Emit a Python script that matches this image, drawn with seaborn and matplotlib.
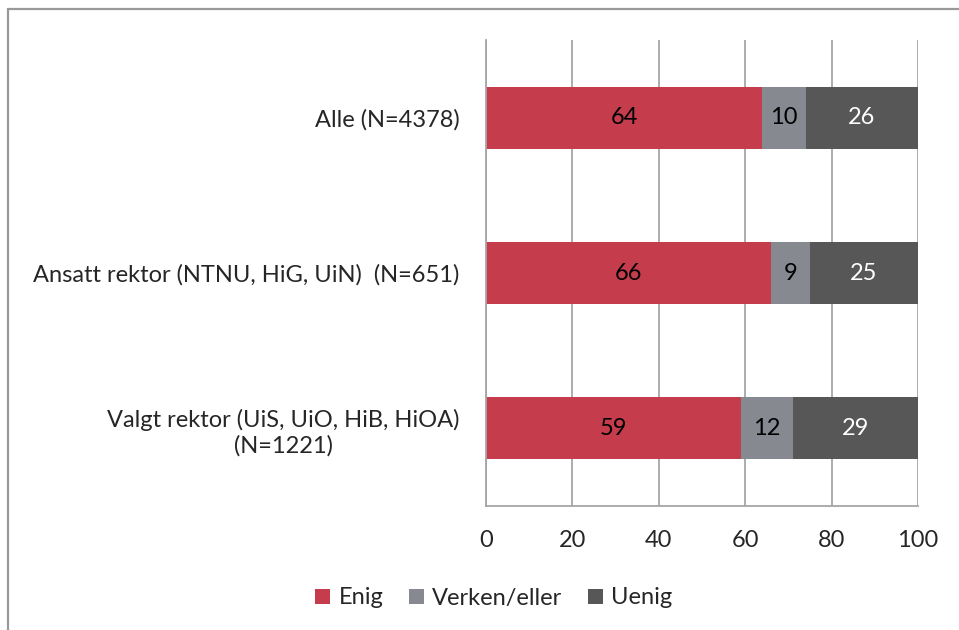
import matplotlib
matplotlib.use("Agg")
import matplotlib.pyplot as plt
import seaborn as sns
import pandas as pd
import numpy as np
from matplotlib.lines import Line2D
from matplotlib.patches import Patch

categories = ["Alle (N=4378)",
              "Ansatt rektor (NTNU, HiG, UiN)  (N=651)",
              "Valgt rektor (UiS, UiO, HiB, HiOA)\n(N=1221)"]
series_names = ["Enig", "Verken/eller", "Uenig"]
enig = [64, 66, 59]
verken = [10, 9, 12]
uenig = [26, 25, 29]
xticks = [0, 20, 40, 60, 80, 100]

colors = ["#C53D4C", "#868A90", "#575757"]
text_colors = ["black", "black", "white"]

sns.set_theme(style="white")
plt.rcParams['font.family'] = ['Lato', 'DejaVu Sans']
FS = 17

fig = plt.figure(figsize=(9.59, 6.30), dpi=100)
ax = fig.add_axes([486/959, 1 - 506/630, (918-486)/959, (506-40)/630])

values = [enig, verken, uenig]
cum = np.cumsum(np.array(values), axis=0)
starts = cum - np.array(values)

for i in reversed(range(3)):
    df = pd.DataFrame({"cat": categories, "val": cum[i]})
    sns.barplot(data=df, y="cat", x="val", orient="h", color=colors[i],
                width=0.4, ax=ax, saturation=1, edgecolor="none", linewidth=0)

for i in range(3):
    for j in range(len(categories)):
        mid = starts[i][j] + values[i][j] / 2
        ax.text(mid, j, str(values[i][j]), ha="center", va="center",
                color=text_colors[i], fontsize=FS)

ax.set_xlim(0, 100)
ax.set_ylim(2.5, -0.5)
ax.set_xticks(xticks)
ax.set_xticklabels([str(t) for t in xticks], fontsize=FS)
ax.set_xlabel("")
ax.set_ylabel("")
ax.tick_params(axis="y", labelsize=FS, pad=19, length=0)
ax.tick_params(axis="x", pad=17, length=0)
for lab in ax.get_yticklabels():
    lab.set_multialignment("center")
    lab.set_linespacing(1.25)
ax.xaxis.grid(True, color="#A6A6A6", linewidth=1.3)
ax.yaxis.grid(False)
ax.set_axisbelow(True)
for s in ["top", "right"]:
    ax.spines[s].set_visible(False)
for s in ["left", "bottom"]:
    ax.spines[s].set_color("#A6A6A6")
    ax.spines[s].set_linewidth(1.3)

handles = [Patch(facecolor=c, edgecolor="none") for c in colors]
fig.legend(handles, series_names, loc="center", bbox_to_anchor=(494/959, 1 - 598/630),
           ncol=3, frameon=False, fontsize=FS, handlelength=0.62, handleheight=0.62,
           handletextpad=0.35, columnspacing=1.1)

fig.add_artist(Line2D([8/959, 1], [1 - 9/630, 1 - 9/630], color="#999999", linewidth=1.6,
                      transform=fig.transFigure))
fig.add_artist(Line2D([8/959, 8/959], [0, 1 - 9/630], color="#999999", linewidth=1.6,
                      transform=fig.transFigure))

fig.savefig("out.png", dpi=100)
